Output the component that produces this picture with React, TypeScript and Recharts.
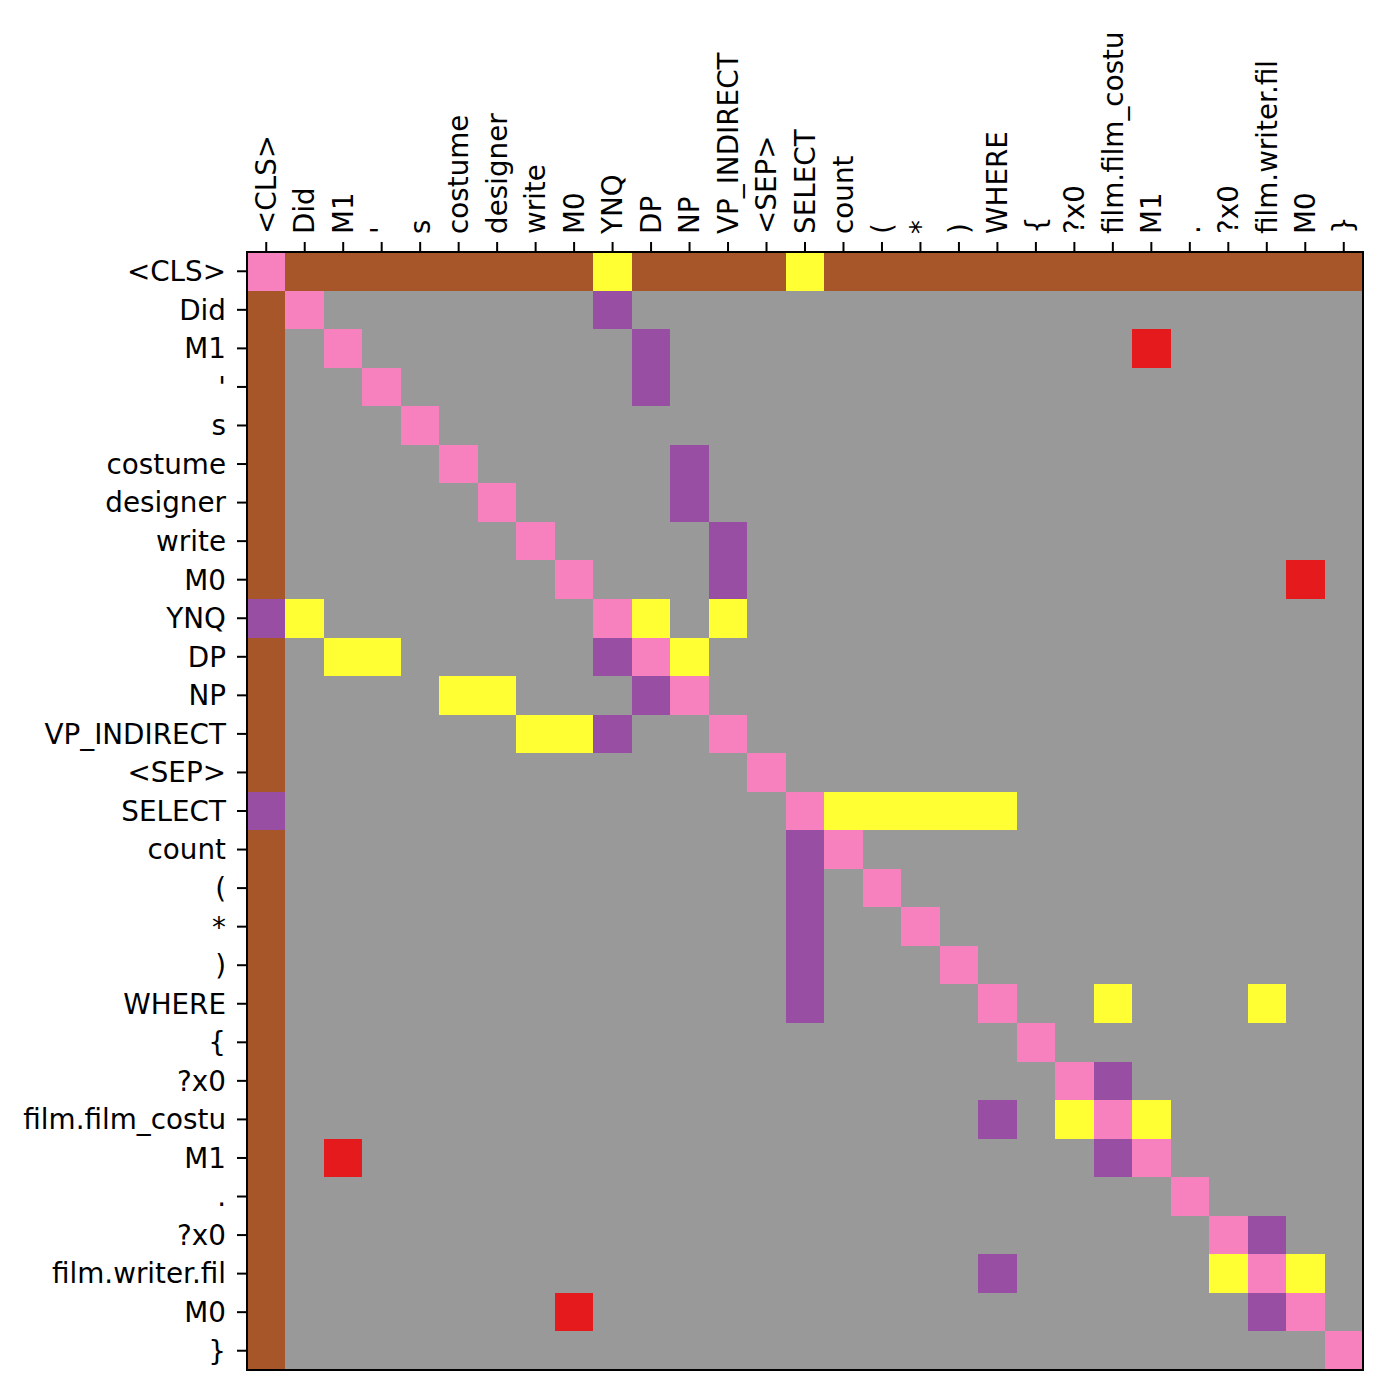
import { ScatterChart, Scatter, XAxis, YAxis } from "recharts";

// tokens along both axes (source sentence + target query)
const tokens = [
  "<CLS>", "Did", "M1", "'", "s", "costume", "designer", "write", "M0", "YNQ",
  "DP", "NP", "VP_INDIRECT", "<SEP>", "SELECT", "count", "(", "*", ")", "WHERE",
  "{", "?x0", "film.film_costu", "M1", ".", "?x0", "film.writer.fil", "M0", "}",
];

// one string per row, one char per column (spaces only group by 5)
// p = self, b = cls, y = child, u = parent, r = link, . = none
const cellRows = [
  "pbbbb bbbby bbbby bbbbb bbbbb bbbb",
  "bp... ....u ..... ..... ..... ....",
  "b.p.. ..... u.... ..... ...r. ....",
  "b..p. ..... u.... ..... ..... ....",
  "b...p ..... ..... ..... ..... ....",
  "b.... p.... .u... ..... ..... ....",
  "b.... .p... .u... ..... ..... ....",
  "b.... ..p.. ..u.. ..... ..... ....",
  "b.... ...p. ..u.. ..... ..... ..r.",
  "uy... ....p y.y.. ..... ..... ....",
  "b.yy. ....u py... ..... ..... ....",
  "b.... yy... up... ..... ..... ....",
  "b.... ..yyu ..p.. ..... ..... ....",
  "b.... ..... ...p. ..... ..... ....",
  "u.... ..... ....p yyyyy ..... ....",
  "b.... ..... ....u p.... ..... ....",
  "b.... ..... ....u .p... ..... ....",
  "b.... ..... ....u ..p.. ..... ....",
  "b.... ..... ....u ...p. ..... ....",
  "b.... ..... ....u ....p ..y.. .y..",
  "b.... ..... ..... ..... p.... ....",
  "b.... ..... ..... ..... .pu.. ....",
  "b.... ..... ..... ....u .ypy. ....",
  "b.r.. ..... ..... ..... ..up. ....",
  "b.... ..... ..... ..... ....p ....",
  "b.... ..... ..... ..... ..... pu..",
  "b.... ..... ..... ....u ..... ypy.",
  "b.... ...r. ..... ..... ..... .up.",
  "b.... ..... ..... ..... ..... ...p",
];

const palette: Record<string, string> = {
  p: "#f781bf",
  b: "#a65628",
  y: "#ffff33",
  u: "#984ea3",
  r: "#e41a1c",
  ".": "#999999",
};

const W = 1400;
const H = 1400;
const AXIS = 240;
const margin = { top: 12, right: 37, bottom: 30, left: 7 };
const n = tokens.length;
const plotW = W - margin.left - AXIS - margin.right;
const plotH = H - margin.top - AXIS - margin.bottom;
const cellW = plotW / n;
const cellH = plotH / n;
const FONT = "DejaVu Sans";
const FS = 27.8;
const idx = tokens.map((_, i) => i);

const cells = cellRows.flatMap((row, r) =>
  row
    .replace(/ /g, "")
    .split("")
    .map((code, c) => ({ x: c, y: r, code }))
);

// centre of the matrix, used to draw the frame on top of the cells
const frame = [{ x: (n - 1) / 2, y: (n - 1) / 2 }];

const CellShape = (props: any) => {
  const { cx, cy, payload } = props;
  return (
    <rect
      x={cx - cellW / 2}
      y={cy - cellH / 2}
      width={cellW + 0.5}
      height={cellH + 0.5}
      fill={palette[payload.code]}
      shapeRendering="crispEdges"
    />
  );
};

const FrameShape = (props: any) => {
  const { cx, cy } = props;
  return (
    <rect
      x={cx - plotW / 2}
      y={cy - plotH / 2}
      width={plotW}
      height={plotH}
      fill="none"
      stroke="#000"
      strokeWidth={2}
    />
  );
};

const TopTick = (props: any) => {
  const { x, y, payload } = props;
  return (
    <text
      x={x}
      y={y}
      dy="0.35em"
      transform={`rotate(-90 ${x} ${y})`}
      textAnchor="start"
      fontSize={FS}
      fontFamily={FONT}
      fill="#000"
    >
      {tokens[payload.value]}
    </text>
  );
};

export default function App() {
  return (
    <div
      style={{
        position: "absolute",
        left: 0,
        top: 0,
        width: W,
        height: H,
        background: "#fff",
        fontFamily: FONT,
      }}
    >
      <ScatterChart width={W} height={H} margin={margin}>
        <XAxis
          dataKey="x"
          type="number"
          orientation="top"
          domain={[-0.5, n - 0.5]}
          ticks={idx}
          interval={0}
          height={AXIS}
          tickSize={10}
          tickMargin={8}
          tick={<TopTick />}
          axisLine={{ stroke: "#000", strokeWidth: 2 }}
          tickLine={{ stroke: "#000", strokeWidth: 2 }}
        />
        <YAxis
          dataKey="y"
          type="number"
          reversed
          domain={[-0.5, n - 0.5]}
          ticks={idx}
          interval={0}
          width={AXIS}
          tickSize={10}
          tickMargin={11}
          tickFormatter={(v: number) => tokens[v]}
          tick={{ fill: "#000", fontSize: FS, fontFamily: FONT }}
          axisLine={{ stroke: "#000", strokeWidth: 2 }}
          tickLine={{ stroke: "#000", strokeWidth: 2 }}
        />
        <Scatter data={cells} shape={<CellShape />} isAnimationActive={false} />
        <Scatter data={frame} shape={<FrameShape />} isAnimationActive={false} />
      </ScatterChart>
    </div>
  );
}
